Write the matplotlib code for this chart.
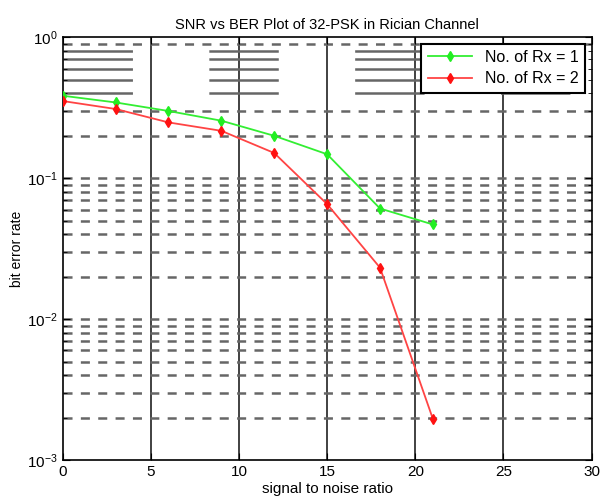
import numpy as np
import matplotlib
matplotlib.use('Agg')
import matplotlib.pyplot as plt

plt.rcParams['font.family'] = ['Liberation Sans', 'DejaVu Sans']
plt.rcParams['lines.scale_dashes'] = False

snr = [0, 3, 6, 9, 12, 15, 18, 21]
ber_rx1 = [0.385, 0.345, 0.300, 0.256, 0.200, 0.148, 0.061, 0.047]
ber_rx2 = [0.353, 0.310, 0.249, 0.217, 0.151, 0.0655, 0.0232, 0.00196]
labels = ['No. of Rx = 1', 'No. of Rx = 2']

fig = plt.figure(figsize=(6.03, 5.04), dpi=100)
ax = fig.add_axes([0.104, 0.087, 0.877, 0.839])

ax.set_yscale('log')
ax.set_xlim(0, 30)
ax.set_ylim(1e-3, 1)
ax.set_xticks(range(0, 31, 5))

# grid: solid vertical, dashed horizontal (MATLAB look)
for xv in range(5, 30, 5):
    ax.axvline(xv, color='#333333', lw=1.3, zorder=1)
for dec in [1e-3, 1e-2, 1e-1]:
    for m in range(1, 10):
        yv = m * dec
        if yv <= 1e-3:
            continue
        if dec == 1e-1 and 4 <= m <= 8:
            ax.axhline(yv, color='#666666', lw=1.8, dashes=(50, 55), zorder=1)
        else:
            ax.axhline(yv, color='#666666', lw=1.8, dashes=(6.5, 6), zorder=1)

ax.plot(snr, ber_rx1, '-d', color='#33ee33', mfc='#22ee22', mec='#22ee22', ms=5, lw=1.3, label=labels[0], zorder=3)
ax.plot(snr, ber_rx2, '-d', color='#ff4444', mfc='#ff1111', mec='#ff1111', ms=5, lw=1.3, label=labels[1], zorder=3)

ax.tick_params(which='both', direction='in', top=True, right=True, labelsize=11)
ax.tick_params(which='major', length=5)
ax.tick_params(which='minor', length=3)
for s in ax.spines.values():
    s.set_linewidth(1.2)

ax.set_title('SNR vs BER Plot of 32-PSK in Rician Channel', fontsize=10.5)
ax.set_xlabel('signal to noise ratio', fontsize=11, labelpad=2)
ax.set_ylabel('bit error rate', fontsize=10, labelpad=2)

leg = ax.legend(loc='upper right', numpoints=1, fontsize=11.5, fancybox=False,
                framealpha=1, edgecolor='black', handlelength=2.8,
                borderaxespad=0.4, labelspacing=0.4)
leg.get_frame().set_linewidth(1.5)

fig.savefig('out.png', dpi=100)
